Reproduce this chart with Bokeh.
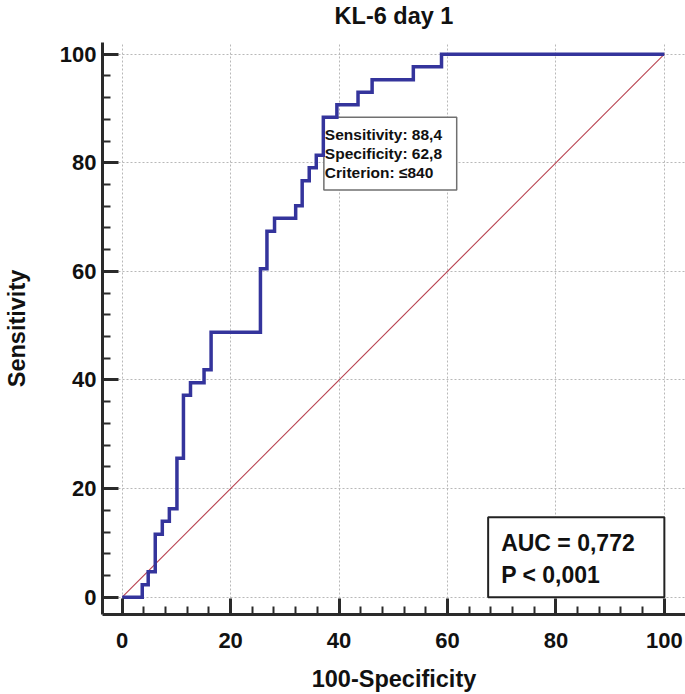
from bokeh.plotting import figure
from bokeh.models import Range1d, SingleIntervalTicker, Label, Title
from bokeh.embed import file_html
from bokeh.resources import INLINE

# ROC curve (100-Specificity, Sensitivity)
fpr = [0, 3.7, 4.8, 6.1, 7.4, 8.7, 10.1, 11.3, 12.6, 15.1, 16.4, 25.5, 26.7, 28.1,
       32.0, 33.2, 34.5, 35.8, 37.1, 39.6, 43.5, 46.1, 53.7, 58.9, 100]
tpr = [0, 2.3, 4.7, 11.6, 14.0, 16.3, 25.6, 37.2, 39.5, 41.9, 48.8, 60.5, 67.4, 69.8,
       72.1, 76.7, 79.1, 81.4, 88.4, 90.7, 93.0, 95.3, 97.7, 100, 100]
diag_x = [0, 100]
diag_y = [0, 100]

title_text = "KL-6 day 1"
crit_x = 37.2
crit_y = 88.4
crit_lines = ["Sensitivity: 88,4", "Specificity: 62,8", "Criterion: \u2264840"]
auc_lines = ["AUC = 0,772", "P < 0,001"]

FONT = "Liberation Sans"

p = figure(width=685, height=694, output_backend="svg", toolbar_location=None,
           x_range=Range1d(-3.63, 103.9), y_range=Range1d(-3.19, 102.15),
           min_border_left=101, min_border_right=0, min_border_top=42, min_border_bottom=80)
p.outline_line_color = None
p.background_fill_color = "white"
p.border_fill_color = "white"

# spacer between frame and title, then the title itself
p.add_layout(Title(text=" ", text_font_size="1px", standoff=9), "above")
p.add_layout(Title(text=title_text, align="center", vertical_align="top", standoff=0,
                   text_font=FONT, text_font_size="23.5px", text_font_style="bold",
                   text_color="#111111"), "above")

ticker = SingleIntervalTicker(interval=20, num_minor_ticks=5)
for ax in (p.xaxis[0], p.yaxis[0]):
    ax.ticker = ticker
    ax.major_tick_in = 16
    ax.major_tick_out = 0
    ax.minor_tick_in = 8
    ax.minor_tick_out = 0
    ax.axis_line_width = 3
    ax.major_tick_line_width = 3
    ax.minor_tick_line_width = 2
    ax.axis_line_color = "#2a2a2a"
    ax.major_tick_line_color = "#2a2a2a"
    ax.minor_tick_line_color = "#2a2a2a"
    ax.major_label_text_font = FONT
    ax.major_label_text_font_size = "22px"
    ax.major_label_text_font_style = "bold"
    ax.major_label_text_color = "#111111"
    ax.axis_label_text_font = FONT
    ax.axis_label_text_font_size = "23.5px"
    ax.axis_label_text_font_style = "bold"
    ax.axis_label_text_color = "#111111"

p.xaxis.axis_label = "100-Specificity"
p.xaxis.major_label_standoff = 18
p.xaxis.axis_label_standoff = 15
p.yaxis.axis_label = "Sensitivity"
p.yaxis.major_label_standoff = 6
p.yaxis.axis_label_standoff = 27

p.xgrid.ticker = ticker
p.ygrid.ticker = ticker
p.grid.grid_line_color = "#b8b8b8"
p.grid.grid_line_dash = "2 2"
p.grid.grid_line_width = 1

# chance diagonal
p.line(diag_x, diag_y, line_color="#b8404f", line_width=1.1)

# criterion box (drawn below curve)
p.quad(left=[crit_x], right=[61.7], top=[crit_y], bottom=[75.0],
       fill_color="white", line_color="#707070", line_width=1.5)

# ROC curve
p.step(fpr, tpr, mode="after", line_color="#34349c", line_width=3.5, line_join="miter")

for i, t in enumerate(crit_lines):
    p.add_layout(Label(x=crit_x, y=crit_y, x_offset=1, y_offset=-17 - 19.3 * i, text=t,
                       text_font=FONT, text_font_size="15.5px", text_font_style="bold",
                       text_color="#111111", text_baseline="alphabetic"))

# AUC box
p.quad(left=[67.5], right=[100], top=[14.7], bottom=[0],
       fill_color="white", line_color="#222222", line_width=2)
for i, t in enumerate(auc_lines):
    p.add_layout(Label(x=67.5, y=14.7, x_offset=13, y_offset=-25.6 - 32.4 * i, text=t,
                       text_font=FONT, text_font_size="23px", text_font_style="bold",
                       text_color="#111111", text_baseline="alphabetic"))

with open("out.html", "w", encoding="utf-8") as f:
    f.write(file_html(p, INLINE))
